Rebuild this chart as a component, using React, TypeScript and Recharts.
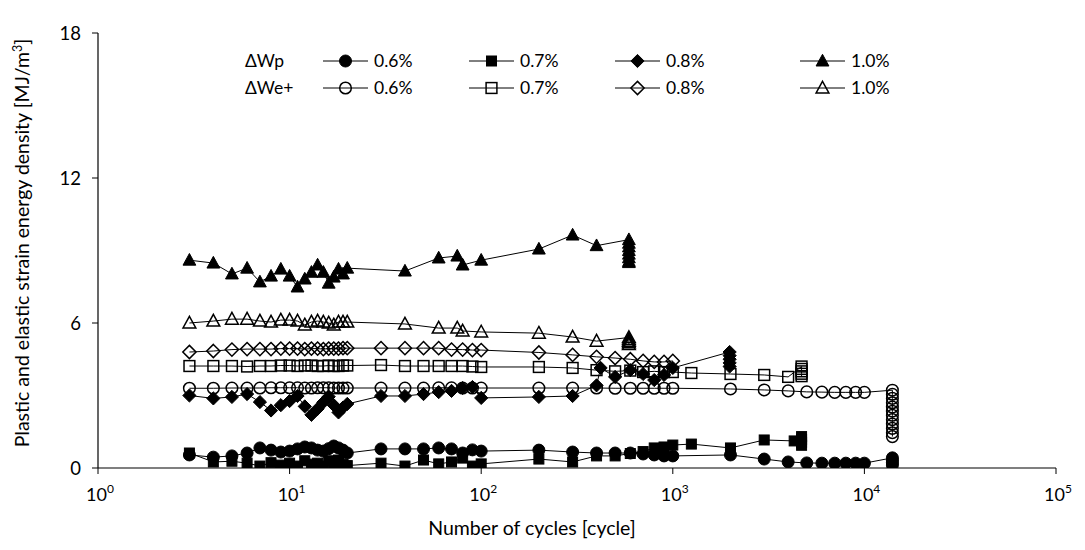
import { Label, Scatter, ScatterChart, XAxis, YAxis } from "recharts";

// cycle counts shared by most series
const EARLY = [3, 4, 5, 6, 7, 8, 9, 10, 11, 12, 13, 14, 15, 16, 17, 18, 19, 20];
const TENS = [30, 40, 50, 60, 70, 80, 90, 100];
const HUNDREDS = [200, 300, 400, 500, 600, 700, 800, 900, 1000];
const THOUSANDS = [2000, 3000, 4000, 5000, 6000, 7000, 8000, 9000, 10000];
const SPARSE = [40, 60, 75, 80, 100, 200, 300, 400];

// plastic strain energy ΔWp
const wp06Cycles = [...EARLY, ...TENS, ...HUNDREDS, ...THOUSANDS, 14000, 14000, 14000, 14000];
const wp06Values = [
  0.54, 0.45, 0.5, 0.62, 0.83, 0.74, 0.66, 0.7, 0.79, 0.87, 0.83, 0.74, 0.7, 0.8, 0.91, 0.83, 0.74, 0.62,
  0.79, 0.79, 0.79, 0.83, 0.79, 0.62, 0.75, 0.7,
  0.74, 0.66, 0.62, 0.62, 0.62, 0.58, 0.54, 0.5, 0.5,
  0.54, 0.37, 0.25, 0.21, 0.2, 0.2, 0.2, 0.2, 0.2,
  0.42, 0.32, 0.22, 0.12,
];

const wp07Cycles = [...EARLY, ...TENS, ...HUNDREDS, 1250, 2000, 3000, 4300, 4700, 4700, 4700, 4700];
const wp07Values = [
  0.62, 0.25, 0.28, 0.2, 0.08, 0.22, 0.12, 0.2, 0.08, 0.3, 0.16, 0.2, 0.08, 0.3, 0.16, 0.33, 0.15, 0.1,
  0.2, 0.08, 0.33, 0.17, 0.25, 0.41, 0.08, 0.17,
  0.37, 0.25, 0.5, 0.5, 0.6, 0.68, 0.83, 0.87, 0.95,
  0.99, 0.83, 1.16, 1.12,
  1.3, 1.18, 1.06, 0.94,
];

const wp08Cycles = [
  ...EARLY, ...TENS, 200, 300, 400, 420, 500, 600, 700, 800, 900, 1000,
  1980, 1980, 1980, 1980, 1980,
];
const wp08Values = [
  3.0, 2.88, 2.94, 3.06, 2.73, 2.38, 2.6, 2.77, 2.98, 2.55, 2.2, 2.45, 2.72, 2.95, 2.6, 2.3, 2.5, 2.65,
  2.98, 2.98, 3.06, 3.14, 3.19, 3.31, 3.35, 2.9,
  2.94, 2.98, 3.42, 4.14, 3.77, 4.05, 3.89, 3.64, 3.85, 4.14,
  4.8, 4.65, 4.5, 4.35, 4.2,
];

const wp10Cycles = [...EARLY, ...SPARSE, 590, 590, 590, 590, 590, 590, 590, 590];
const wp10Values = [
  8.6, 8.48, 8.03, 8.27, 7.7, 7.94, 8.23, 7.94, 7.49, 7.82, 8.1, 8.4, 8.1, 7.65, 7.9, 8.23, 8.03, 8.27,
  8.15, 8.69, 8.77, 8.4, 8.6, 9.06, 9.64, 9.2,
  9.45, 9.3, 9.15, 9.0, 8.85, 8.7, 8.55, 8.5,
];

// tensile elastic strain energy ΔWe+
const we06Cycles = [
  ...EARLY, ...TENS, ...HUNDREDS, ...THOUSANDS,
  14000, 14000, 14000, 14000, 14000, 14000, 14000, 14000, 14000, 14000, 14000, 14000,
];
const we06Values = [
  3.3, 3.3, 3.31, 3.31, 3.31, 3.32, 3.32, 3.32, 3.32, 3.31, 3.31, 3.32, 3.32, 3.32, 3.31, 3.31, 3.31, 3.31,
  3.31, 3.31, 3.31, 3.32, 3.32, 3.31, 3.31, 3.31,
  3.31, 3.31, 3.31, 3.3, 3.3, 3.3, 3.3, 3.3, 3.3,
  3.27, 3.23, 3.19, 3.15, 3.14, 3.13, 3.13, 3.13, 3.13,
  3.22, 3.05, 2.88, 2.7, 2.52, 2.35, 2.18, 2.0, 1.82, 1.64, 1.46, 1.3,
];

const we07Cycles = [...EARLY, ...TENS, ...HUNDREDS, 1250, 2000, 3000, 4000, 4700, 4700, 4700, 4700, 4700];
const we07Values = [
  4.22, 4.22, 4.22, 4.2, 4.22, 4.22, 4.24, 4.24, 4.22, 4.24, 4.24, 4.22, 4.22, 4.24, 4.22, 4.22, 4.24, 4.24,
  4.26, 4.22, 4.22, 4.22, 4.22, 4.22, 4.2, 4.18,
  4.18, 4.14, 4.05, 4.0, 4.03, 3.97, 4.0, 3.97, 3.97,
  3.93, 3.89, 3.85, 3.77,
  4.2, 4.1, 4.0, 3.9, 3.8,
];

const we08Cycles = [...EARLY, ...TENS, ...HUNDREDS];
const we08Values = [
  4.8, 4.84, 4.9, 4.92, 4.92, 4.92, 4.94, 4.94, 4.94, 4.92, 4.94, 4.94, 4.92, 4.94, 4.94, 4.94, 4.96, 4.96,
  4.96, 4.96, 4.96, 4.96, 4.9, 4.9, 4.88, 4.88,
  4.78, 4.68, 4.6, 4.55, 4.5, 4.43, 4.39, 4.39, 4.43,
];

const we10Cycles = [...EARLY, ...SPARSE, 590, 590, 590, 590, 590];
const we10Values = [
  6.0, 6.08, 6.16, 6.16, 6.08, 6.04, 6.12, 6.12, 6.08, 5.92, 6.04, 6.08, 6.04, 6.0, 5.92, 6.04, 6.04, 6.04,
  5.96, 5.79, 5.79, 5.67, 5.63, 5.58, 5.42, 5.25,
  5.4, 5.32, 5.25, 5.18, 5.11,
];

const LEGEND_LABELS = ["0.6%", "0.7%", "0.8%", "1.0%"];
const X_TICKS = [1, 10, 100, 1000, 10000, 100000];
const Y_TICKS = [0, 6, 12, 18];

type Kind = "circle" | "square" | "diamond" | "triangle";
const KINDS: Kind[] = ["circle", "square", "diamond", "triangle"];

const FONT = "Lato, 'Liberation Sans', sans-serif";

const toPoints = (xs: number[], ys: number[]) => xs.map((x, i) => ({ x, y: ys[i] }));

const SERIES = [
  { key: "wp06", kind: "circle" as Kind, filled: true, xs: wp06Cycles, ys: wp06Values },
  { key: "wp07", kind: "square" as Kind, filled: true, xs: wp07Cycles, ys: wp07Values },
  { key: "wp08", kind: "diamond" as Kind, filled: true, xs: wp08Cycles, ys: wp08Values },
  { key: "wp10", kind: "triangle" as Kind, filled: true, xs: wp10Cycles, ys: wp10Values },
  { key: "we06", kind: "circle" as Kind, filled: false, xs: we06Cycles, ys: we06Values },
  { key: "we07", kind: "square" as Kind, filled: false, xs: we07Cycles, ys: we07Values },
  { key: "we08", kind: "diamond" as Kind, filled: false, xs: we08Cycles, ys: we08Values },
  { key: "we10", kind: "triangle" as Kind, filled: false, xs: we10Cycles, ys: we10Values },
];

function Marker({ kind, filled, cx, cy }: { kind: Kind; filled: boolean; cx: number; cy: number }) {
  const fill = filled ? "#000" : "none";
  const sw = filled ? 1 : 1.5;
  if (kind === "circle") {
    return <circle cx={cx} cy={cy} r={filled ? 6 : 5.8} fill={fill} stroke="#000" strokeWidth={sw} />;
  }
  if (kind === "square") {
    const h = filled ? 5 : 5.4;
    return <rect x={cx - h} y={cy - h} width={h * 2} height={h * 2} fill={fill} stroke="#000" strokeWidth={sw} />;
  }
  if (kind === "diamond") {
    const h = 6.6;
    return (
      <polygon
        points={`${cx},${cy - h} ${cx + h},${cy} ${cx},${cy + h} ${cx - h},${cy}`}
        fill={fill}
        stroke="#000"
        strokeWidth={sw}
      />
    );
  }
  const w = 6.4;
  return (
    <polygon
      points={`${cx},${cy - 6.7} ${cx + w},${cy + 5} ${cx - w},${cy + 5}`}
      fill={fill}
      stroke="#000"
      strokeWidth={sw}
    />
  );
}

function PowerTick({ x, y, payload }: any) {
  const exp = Math.round(Math.log10(payload.value));
  return (
    <text x={x + 2} y={y + 25} textAnchor="middle" fontSize={18} fill="#000" fontFamily={FONT}>
      <tspan>10</tspan>
      <tspan dy={-8} fontSize={12}>
        {exp}
      </tspan>
    </text>
  );
}

function LegendBox() {
  const rows = [
    { title: "ΔWp", filled: true, y: 61 },
    { title: "ΔWe+", filled: false, y: 88 },
  ];
  const cols = [323, 469, 615, 800];
  return (
    <svg
      width={1085}
      height={550}
      style={{ position: "absolute", left: 0, top: 0, pointerEvents: "none" }}
    >
      {rows.map((r) => (
        <g key={r.title}>
          <text x={245} y={r.y} dy="0.35em" fontSize={17.5} fill="#000" fontFamily={FONT}>
            {r.title}
          </text>
          {cols.map((c, i) => (
            <g key={i}>
              <line x1={c} x2={c + 45} y1={r.y} y2={r.y} stroke="#000" strokeWidth={1} />
              <Marker kind={KINDS[i]} filled={r.filled} cx={c + 22.5} cy={r.y} />
              <text x={c + 51} y={r.y} dy="0.35em" fontSize={17.5} fill="#000" fontFamily={FONT}>
                {LEGEND_LABELS[i]}
              </text>
            </g>
          ))}
        </g>
      ))}
    </svg>
  );
}

export default function App() {
  return (
    <div style={{ position: "absolute", left: 0, top: 0, width: 1085, height: 550, background: "#fff", fontFamily: FONT }}>
      <ScatterChart width={1085} height={550} margin={{ top: 33, right: 29, bottom: 0, left: 0 }}>
        <XAxis
          type="number"
          dataKey="x"
          scale="log"
          domain={[1, 100000]}
          ticks={X_TICKS}
          allowDataOverflow
          height={82}
          tickSize={6}
          axisLine={{ stroke: "#000", strokeWidth: 1.2 }}
          tickLine={{ stroke: "#000" }}
          tick={<PowerTick />}
        >
          <Label
            content={() => (
              <text x={532} y={535} textAnchor="middle" fontSize={19.5} fill="#000" fontFamily={FONT}>
                Number of cycles [cycle]
              </text>
            )}
          />
        </XAxis>
        <YAxis
          type="number"
          dataKey="y"
          domain={[0, 18]}
          ticks={Y_TICKS}
          allowDataOverflow
          width={98}
          tickSize={6}
          tickMargin={11}
          axisLine={{ stroke: "#000", strokeWidth: 1.2 }}
          tickLine={{ stroke: "#000" }}
          tick={{ fontSize: 18.5, fill: "#000", fontFamily: FONT }}
        >
          <Label
            content={() => (
              <text
                transform="translate(29,243) rotate(-90)"
                textAnchor="middle"
                fontSize={19.5}
                fill="#000"
                fontFamily={FONT}
              >
                Plastic and elastic strain energy density [MJ/m
                <tspan dy={-7} fontSize={12.5}>
                  3
                </tspan>
                <tspan dy={7}>]</tspan>
              </text>
            )}
          />
        </YAxis>
        {SERIES.map((s) => (
          <Scatter
            key={s.key}
            data={toPoints(s.xs, s.ys)}
            line={{ stroke: "#000", strokeWidth: 1 }}
            lineType="joint"
            isAnimationActive={false}
            shape={(p: any) => <Marker kind={s.kind} filled={s.filled} cx={p.cx} cy={p.cy} />}
          />
        ))}
      </ScatterChart>
      <LegendBox />
    </div>
  );
}
